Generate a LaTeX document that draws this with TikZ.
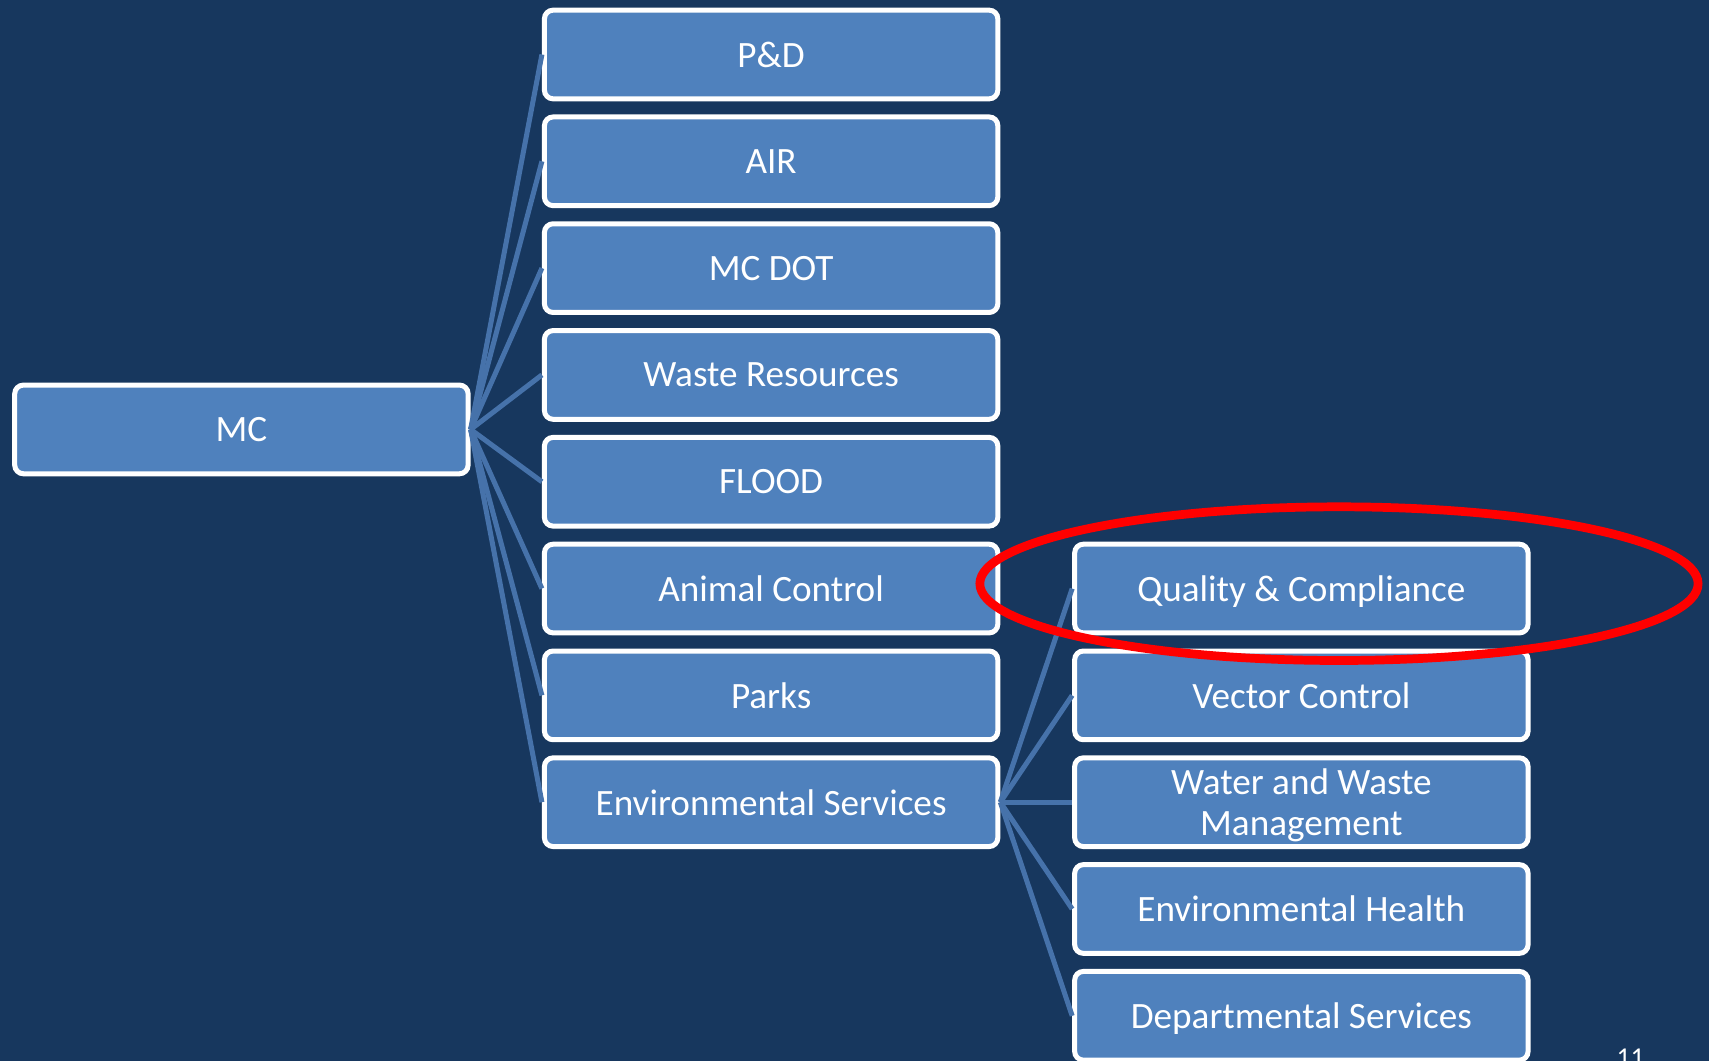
\documentclass[tikz,border=0pt]{standalone}
\usepackage{fontspec}
\setmainfont{Carlito}
\definecolor{bg}{RGB}{23,55,94}
\definecolor{boxfill}{RGB}{79,129,189}
\definecolor{lineblue}{RGB}{70,114,170}
\begin{document}
\begin{tikzpicture}[x=0.5pt,y=-0.5pt,
  orgbox/.style={draw=white, line width=2.3pt, fill=boxfill, rounded corners=4pt,
    minimum width=208pt, minimum height=40.7pt, text=white, inner sep=0pt,
    text depth=0pt,
    font=\fontsize{17.05}{18.5}\selectfont, align=center},
  conn/.style={draw=lineblue, line width=2.3pt}]
\fill[bg] (0,0) rectangle (1568,973);
\useasboundingbox (0,0) rectangle (1568,973);
% nodes
\node[orgbox] (mc) at (221.5,394) {MC};
\node[orgbox] (pd) at (707.5,50) {P\&D};
\node[orgbox] (air) at (707.5,148) {AIR};
\node[orgbox] (dot) at (707.5,246) {MC DOT};
\node[orgbox] (waste) at (707.5,344) {Waste Resources};
\node[orgbox] (flood) at (707.5,442) {FLOOD};
\node[orgbox] (animal) at (707.5,540) {Animal Control};
\node[orgbox] (parks) at (707.5,638) {Parks};
\node[orgbox] (env) at (707.5,736) {Environmental Services};
\node[orgbox] (qc) at (1194,540) {Quality \& Compliance};
\node[orgbox] (vector) at (1194,638) {Vector Control};
\node[orgbox] (water) at (1194,736) {Water and Waste\\Management};
\node[orgbox] (health) at (1194,834) {Environmental Health};
\node[orgbox] (dept) at (1194,932) {Departmental Services};
% connectors
\foreach \t in {pd,air,dot,waste,flood,animal,parks,env}
  \draw[conn] (mc.east) -- (\t.west);
\foreach \t in {qc,vector,water,health,dept}
  \draw[conn] (env.east) -- (\t.west);
% highlight
\draw[red, line width=4pt] (1228.5,535.5) ellipse [x radius=164.75pt, y radius=35.25pt];
% page number
\node[text=white, font=\fontsize{12.5}{14}\selectfont, anchor=north, inner sep=0pt] (pg) at (1496,962) {11};
\end{tikzpicture}
\end{document}
